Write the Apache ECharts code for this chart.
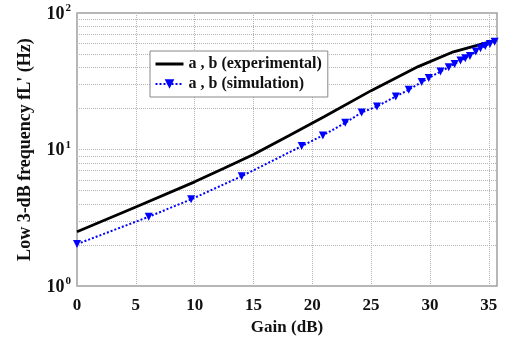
<!DOCTYPE html>
<html>
<head>
<meta charset="utf-8">
<script src="https://cdn.jsdelivr.net/npm/echarts@6/dist/echarts.min.js"></script>
<style>
  html, body { margin: 0; padding: 0; background: #fff; }
  #chart { width: 506px; height: 341px; }
</style>
</head>
<body>
<div id="chart"></div>
<script>
// experimental curve (black)
var expGain = [0, 5, 10, 12.5, 15, 18, 21, 25, 29, 32, 35.7];
var expFreq = [2.5, 3.8, 5.8, 7.3, 9.2, 12.6, 17.4, 27, 40.5, 52, 63.5];
// simulation points (blue)
var simGain = [0, 6.1, 9.7, 14.0, 19.1, 20.9, 22.8, 24.2, 25.5, 27.1, 28.2, 29.3, 29.9, 30.9, 31.6, 32.1, 32.6, 33.0, 33.4, 33.9, 34.3, 34.7, 35.1, 35.5];
var simFreq = [2.03, 3.22, 4.32, 6.38, 10.6, 12.7, 15.7, 18.7, 20.7, 24.5, 27.4, 31.2, 33.4, 37.3, 40.1, 42.4, 44.9, 46.7, 48.5, 52.2, 55.2, 57.4, 59.4, 61.7];
// log minor grid lines
var minorGrid = [2, 3, 4, 5, 6, 7, 8, 9, 20, 30, 40, 50, 60, 70, 80, 90];

var serif = 'Liberation Serif';
var gridColor = '#b5b5b5';

function pairs(xs, ys) {
  return xs.map(function (x, i) { return [x, ys[i]]; });
}

var chart = echarts.init(document.getElementById('chart'));
chart.setOption({
  animation: false,
  grid: { left: 77, right: 9, top: 13, bottom: 54, show: true, borderColor: '#a0a0a0', borderWidth: 1.5 },
  legend: {
    orient: 'vertical',
    left: 150, top: 51,
    padding: [5, 6, 5, 4],
    itemGap: 4,
    itemWidth: 28, itemHeight: 12,
    backgroundColor: '#fff',
    borderColor: '#888', borderWidth: 1,
    textStyle: { fontFamily: serif, fontWeight: 'bold', fontSize: 16, color: '#111' },
    data: [
      { name: 'a , b (experimental)', itemStyle: { opacity: 0 }, lineStyle: { width: 3 } },
      'a , b (simulation)'
    ]
  },
  xAxis: {
    type: 'value', min: 0, max: 35.7, interval: 5,
    name: 'Gain (dB)', nameLocation: 'middle', nameGap: 29,
    nameTextStyle: { fontFamily: serif, fontWeight: 'bold', fontSize: 17, color: '#111' },
    axisLine: { show: false },
    axisTick: { show: false },
    axisLabel: { showMaxLabel: false, margin: 11, fontFamily: serif, fontWeight: 'bold', fontSize: 17, color: '#111' },
    splitLine: { show: true, lineStyle: { color: gridColor, type: 'dotted', width: 1 } }
  },
  yAxis: {
    type: 'log', logBase: 10, min: 1, max: 100,
    name: "Low 3-dB frequency fL' (Hz)", nameLocation: 'middle', nameGap: 43,
    nameTextStyle: { fontFamily: serif, fontWeight: 'bold', fontSize: 18, color: '#111' },
    axisLine: { show: false },
    axisTick: { show: false },
    axisLabel: {
      margin: 6,
      formatter: function (v) {
        return '{b|10}{s|' + Math.round(Math.log10(v)) + '}';
      },
      rich: {
        b: { fontFamily: serif, fontWeight: 'bold', fontSize: 18, color: '#111', lineHeight: 20, verticalAlign: 'bottom' },
        s: { fontFamily: serif, fontWeight: 'bold', fontSize: 11, color: '#111', lineHeight: 20, verticalAlign: 'top', padding: [0, 0, 0, 1] }
      }
    },
    splitLine: { show: true, lineStyle: { color: gridColor, type: 'dotted', width: 1 } }
  },
  series: [
    {
      name: 'a , b (experimental)',
      type: 'line',
      data: pairs(expGain, expFreq),
      showSymbol: false, symbol: 'none',
      lineStyle: { color: '#000', width: 2.8 },
      itemStyle: { color: '#000' },
      z: 3,
      markLine: {
        silent: true, symbol: 'none', animation: false,
        label: { show: false },
        lineStyle: { color: gridColor, type: 'dotted', width: 1 },
        data: minorGrid.map(function (v) { return { yAxis: v }; }),
        z: 1
      }
    },
    {
      name: 'a , b (simulation)',
      type: 'line',
      data: pairs(simGain, simFreq),
      symbol: 'triangle', symbolRotate: 180, symbolSize: 8,
      lineStyle: { color: '#0000ff', width: 2, type: 'dotted' },
      itemStyle: { color: '#0000ff' },
      z: 4
    }
  ]
});
</script>
</body>
</html>
